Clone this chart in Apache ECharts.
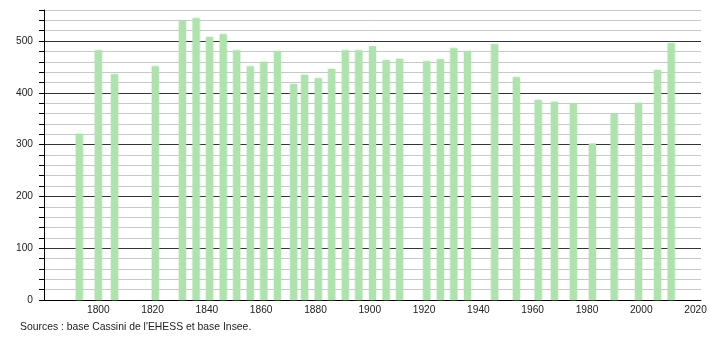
<!DOCTYPE html>
<html><head><meta charset="utf-8">
<script src="https://cdn.jsdelivr.net/npm/echarts@6/dist/echarts.min.js"></script>
<style>html,body{margin:0;padding:0;background:#fff}#c{width:710px;height:340px}</style>
</head><body><div id="c"></div>
<script>
const years = [1793,1800,1806,1821,1831,1836,1841,1846,1851,1856,1861,1866,1872,1876,1881,1886,1891,1896,1901,1906,1911,1921,1926,1931,1936,1946,1954,1962,1968,1975,1982,1990,1999,2006,2011];
const population = [321,482,436,451,539,544,508,513,482,451,460,481,417,435,428,446,482,482,490,463,466,461,465,486,480,494,430,386,383,379,302,359,381,444,496];
const yTicks = [0,100,200,300,400,500];
const xTicks = [1800,1820,1840,1860,1880,1900,1920,1940,1960,1980,2000,2020];
const sourceText = "Sources : base Cassini de l'EHESS et base Insee.";

const chart = echarts.init(document.getElementById('c'), null, {renderer:'canvas'});
chart.setOption({
  animation:false,
  backgroundColor:'#fff',
  textStyle:{fontFamily:'Liberation Sans, Arial, sans-serif'},
  grid:{left:44,right:9,top:10,bottom:40,containLabel:false},
  graphic:[{type:'text',left:20,top:322,style:{text:sourceText,fontSize:10.4,fill:'#222',fontFamily:'Liberation Sans, Arial, sans-serif'}}],
  xAxis:{type:'value',min:1780,max:2022,interval:20,
    axisLine:{show:true,lineStyle:{color:'#000',width:1}},
    axisTick:{show:false},splitLine:{show:false},
    axisLabel:{showMaxLabel:false,showMinLabel:false,margin:5,fontSize:10.2,color:'#222',
      formatter:v=>xTicks.includes(v)?String(v):''}},
  yAxis:{type:'value',min:0,max:560,interval:20,
    axisLine:{show:true,lineStyle:{color:'#000',width:1}},
    axisTick:{show:true,inside:false,length:5,lineStyle:{color:'#000'}},
    splitLine:{show:true,lineStyle:{color:['#333','#c8c8c8','#c8c8c8','#c8c8c8','#c8c8c8'],width:1}},
    axisLabel:{margin:11,fontSize:10.2,color:'#222',formatter:v=>yTicks.includes(v)?String(v):''}},
  series:[{type:'bar',barWidth:7,
    data:years.map((y,i)=>[y,population[i]]),
    itemStyle:{color:'#b0e2b0',shadowColor:'rgba(176,226,176,0.8)',shadowBlur:2}}]
});
</script></body></html>
